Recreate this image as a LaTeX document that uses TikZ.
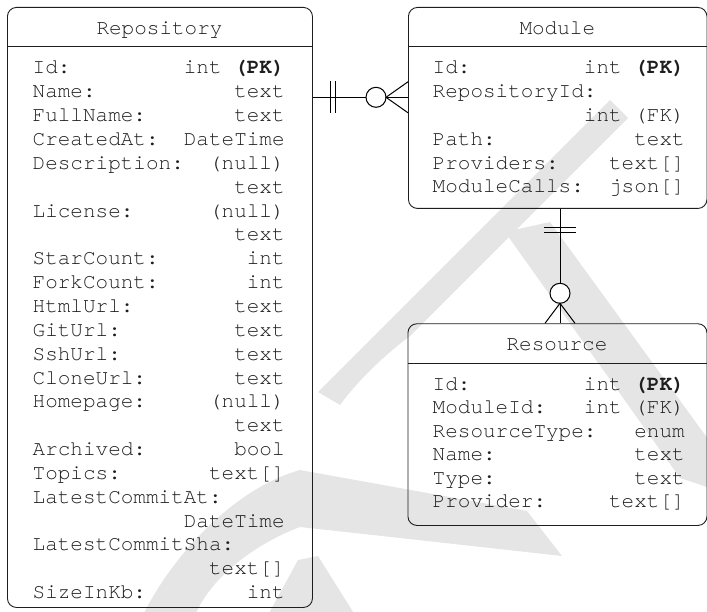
\documentclass[tikz,border=0pt]{standalone}
\usepackage{fontspec}
\usetikzlibrary{calc}
\newfontfamily\erfont{texgyrecursor}[Extension=.otf, UprightFont=*-regular, BoldFont=*-bold]
\definecolor{wmgray}{RGB}{229,229,229}
\definecolor{ink}{RGB}{30,30,30}
% one field row: name on the left, type on the right
\newcommand\frow[2]{\hbox to 252pt{#1\hfill#2}}
% a column of field rows with a given row pitch
\newcommand\fieldlist[2]{\vtop{\baselineskip=#1\lineskiplimit=-20pt\relax #2}}
\begin{document}
\begin{tikzpicture}[x=1pt, y=-1pt,
  entity/.style={draw=ink, line width=0.9pt, rounded corners=9pt, inner sep=0pt, anchor=north west},
  divider/.style={draw=ink, line width=0.9pt},
  caption/.style={font=\erfont\fontsize{21pt}{23.8pt}\selectfont, text=ink, inner sep=0pt, anchor=base},
  fields/.style={font=\erfont\fontsize{21pt}{23.8pt}\selectfont, text=ink, inner sep=0pt, anchor=base west},
  rel/.style={draw=black, line width=0.9pt},
  relmark/.style={draw=black, line width=1pt}
]
\useasboundingbox (0,0) rectangle (707,612);
\clip (0,0) rectangle (707,612);

% light background watermark strokes
\fill[wmgray] (318,392) -- (610,100) -- (628,118) -- (410,336)
  .. controls (385,355) and (360,378) .. (340,405) -- cycle;
\fill[wmgray] (505,232) -- (550,222) -- (716,450) -- (716,490) -- (680,478) -- cycle;
\fill[wmgray] (562,556) -- (400,538) -- (300,527)
  .. controls (265,540) and (215,570) .. (195,615) -- (143,615)
  .. controls (170,560) and (230,490) .. (300,470) -- (527,511) -- cycle;
\fill[wmgray] (268,615) -- (298,560) -- (318,556) -- (355,615) -- cycle;

% ---------- Repository ----------
\node[entity, minimum width=305pt, minimum height=600pt] (repo) at (7,7) {};
\draw[divider] ($(repo.north west)+(0,39.7)$) -- ($(repo.north east)+(0,39.7)$);
\node[caption] (repotitle) at (159.5,35) {Repository};
\node[fields] (repofields) at (32.5,74) {\fieldlist{23.85pt}{%
  \frow{Id:}{int \textbf{(PK)}}
  \frow{Name:}{text}
  \frow{FullName:}{text}
  \frow{CreatedAt:}{DateTime}
  \frow{Description:}{(null)}
  \frow{}{text}
  \frow{License:}{(null)}
  \frow{}{text}
  \frow{StarCount:}{int}
  \frow{ForkCount:}{int}
  \frow{HtmlUrl:}{text}
  \frow{GitUrl:}{text}
  \frow{SshUrl:}{text}
  \frow{CloneUrl:}{text}
  \frow{Homepage:}{(null)}
  \frow{}{text}
  \frow{Archived:}{bool}
  \frow{Topics:}{text[]}
  \frow{LatestCommitAt:}{}
  \frow{}{DateTime}
  \frow{LatestCommitSha:}{}
  \frow{}{text[]}
  \frow{SizeInKb:}{int}}};

% ---------- Module ----------
\node[entity, minimum width=298.5pt, minimum height=201pt] (mod) at (408,7) {};
\draw[divider] ($(mod.north west)+(0,39.7)$) -- ($(mod.north east)+(0,39.7)$);
\node[caption] (modtitle) at (557.3,35) {Module};
\node[fields] (modfields) at (432.5,74) {\fieldlist{23.8pt}{%
  \frow{Id:}{int \textbf{(PK)}}
  \frow{RepositoryId:}{}
  \frow{}{int (FK)}
  \frow{Path:}{text}
  \frow{Providers:}{text[]}
  \frow{ModuleCalls:}{json[]}}};

% ---------- Resource ----------
\node[entity, minimum width=299pt, minimum height=201.7pt] (res) at (407.5,323.3) {};
\draw[divider] ($(res.north west)+(0,40)$) -- ($(res.north east)+(0,40)$);
\node[caption] (restitle) at (557,350.5) {Resource};
\node[fields] (resfields) at (432.5,390.5) {\fieldlist{23.4pt}{%
  \frow{Id:}{int \textbf{(PK)}}
  \frow{ModuleId:}{int (FK)}
  \frow{ResourceType:}{enum}
  \frow{Name:}{text}
  \frow{Type:}{text}
  \frow{Provider:}{text[]}}};

% ---------- Repository 1 -- 0..n Module ----------
\coordinate (r1a) at (repo.east |- 0,97.3);
\coordinate (r1b) at (mod.west |- 0,97.3);
\draw[rel] (r1a) -- (r1b);
\draw[relmark] ($(r1a)+(18,-15.8)$) -- ($(r1a)+(18,15.8)$);
\draw[relmark] ($(r1a)+(23,-15.8)$) -- ($(r1a)+(23,15.8)$);
\draw[relmark, fill=white] ($(r1b)+(-32,0)$) circle[radius=10pt];
\draw[relmark] ($(r1b)+(0,-15.5)$) -- ($(r1b)+(-22,0)$) -- ($(r1b)+(0,15.5)$);

% ---------- Module 1 -- 0..n Resource ----------
\coordinate (r2a) at (mod.south -| 560,0);
\coordinate (r2b) at (res.north -| 560,0);
\draw[rel] (r2a) -- (r2b);
\draw[relmark] ($(r2a)+(-16,18.7)$) -- ($(r2a)+(16,18.7)$);
\draw[relmark] ($(r2a)+(-16,23.7)$) -- ($(r2a)+(16,23.7)$);
\draw[relmark, fill=white] ($(r2b)+(0,-30)$) circle[radius=10pt];
\draw[relmark] ($(r2b)+(-15,0)$) -- ($(r2b)+(0,-20)$) -- ($(r2b)+(15,0)$);
\end{tikzpicture}
\end{document}
